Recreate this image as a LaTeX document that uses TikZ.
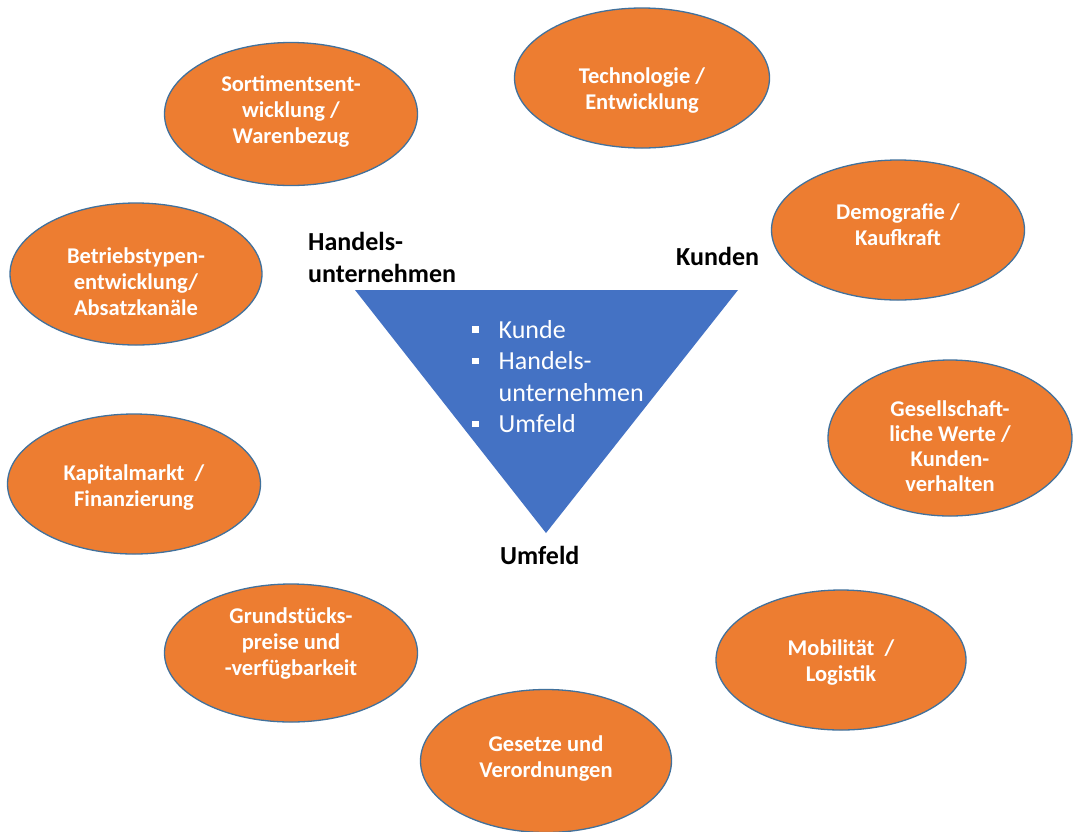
\documentclass[tikz,border=0pt]{standalone}
\usepackage{fontspec}
\setmainfont{Carlito}
\usetikzlibrary{shapes.geometric}
\definecolor{org}{HTML}{ED7D31}
\definecolor{orgline}{HTML}{41719C}
\definecolor{tri}{HTML}{4472C4}
\tikzset{
  ell/.style={ellipse, fill=org, draw=orgline, line width=1.3pt, inner sep=0pt,
    minimum width=254pt, minimum height=142pt},
  elltext/.style={text=white, align=center, inner sep=0pt,
    font=\bfseries\fontsize{22.5}{26}\selectfont},
  corner/.style={font=\bfseries\fontsize{26}{32}\selectfont, text=black, inner sep=0pt, align=left}
}
\newcommand{\sqb}{\raisebox{5.5pt}{\rule{6.5pt}{6.5pt}}}
\begin{document}
\begin{tikzpicture}[x=1pt,y=-1pt]
\useasboundingbox (0,0) rectangle (1073,831);
\fill[white] (0,0) rectangle (1073,831);
% triangle
\coordinate (tl) at (355,290);
\coordinate (tr) at (738,290);
\coordinate (tb) at (546,533);
\fill[tri] (tl) -- (tr) -- (tb) -- cycle;
\node[anchor=base west, inner sep=0pt, text=white, font=\fontsize{26}{31.5}\selectfont] (tlist) at (472,338)
 {\begin{tabular}[t]{@{}l@{\hspace{20pt}}l@{}}
 \sqb & Kunde\\
 \sqb & Handels-\\
      & unternehmen\\
 \sqb & Umfeld
 \end{tabular}};
% corner labels
\node[corner, anchor=base west] (hu) at (308,282) {Handels-\\unternehmen};
\node[corner, anchor=base west] (ku) at (676,265) {Kunden};
\node[corner, anchor=base west] (um) at (500,564) {Umfeld};
% ellipses
\node[ell, minimum width=253pt, minimum height=143pt] (e1) at (291,114) {};
\node[elltext] (t1) at (291,111) {Sortimentsent-\\wicklung /\\Warenbezug};
\node[ell, minimum width=255pt, minimum height=140pt] (e2) at (642,78) {};
\node[elltext] (t2) at (642,91) {Technologie /\\Entwicklung};
\node[ell, minimum width=253pt, minimum height=140pt] (e3) at (898,230) {};
\node[elltext] (t3) at (898,225) {Demografie /\\Kaufkraft};
\node[ell, minimum width=244pt, minimum height=156pt] (e4) at (950,438) {};
\node[elltext, font=\bfseries\fontsize{22.5}{25}\selectfont] (t4) at (950,446) {Gesellschaft-\\liche Werte /\\Kunden-\\verhalten};
\node[ell, minimum width=250pt, minimum height=140pt] (e5) at (841,660) {};
\node[elltext] (t5) at (841,662) {Mobilität~ /\\Logistik};
\node[ell, minimum width=251pt, minimum height=143pt] (e6) at (546,761) {};
\node[elltext] (t6) at (546,758) {Gesetze und\\Verordnungen};
\node[ell, minimum width=253pt, minimum height=138pt] (e7) at (291,653) {};
\node[elltext] (t7) at (291,643) {Grundstücks-\\preise und\\-verfügbarkeit};
\node[ell, minimum width=253pt, minimum height=140pt] (e8) at (134,484) {};
\node[elltext] (t8) at (134,488) {Kapitalmarkt~ /\\Finanzierung};
\node[ell, minimum width=252pt, minimum height=142pt] (e9) at (136,274) {};
\node[elltext] (t9) at (136,282) {Betriebstypen-\\entwicklung/\\Absatzkanäle};
\end{tikzpicture}
\end{document}
